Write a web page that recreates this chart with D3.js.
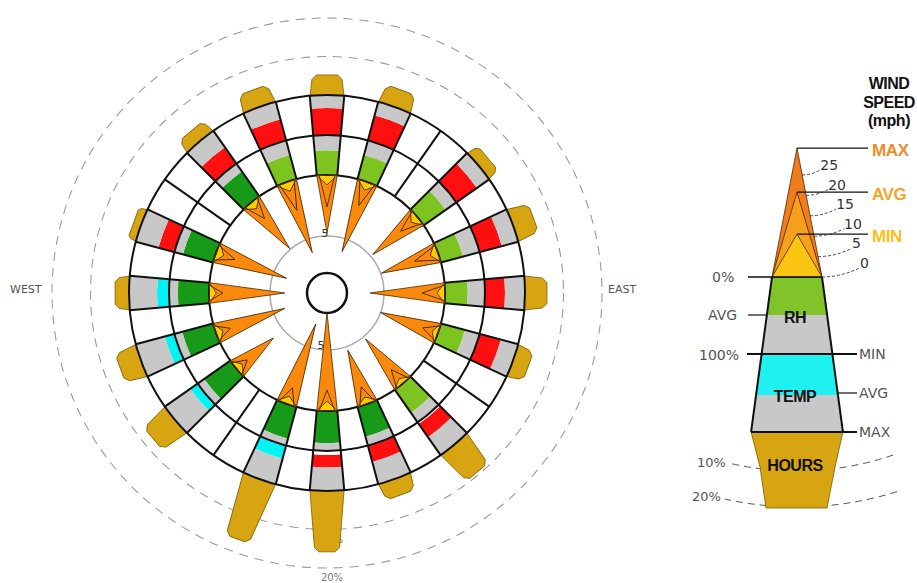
<!DOCTYPE html>
<html>
<head>
<meta charset="utf-8">
<script src="https://cdn.jsdelivr.net/npm/d3@7"></script>
<style>
  body { margin: 0; background: #fff; }
  svg { display: block; }
</style>
</head>
<body>
<svg width="917" height="583"></svg>
<script>
// ---- data ----
// wind directions in degrees, on a 10 degree grid
const directions = [0, 20, 50, 70, 90, 110, 140, 160, 180, 200, 230, 250, 270, 290, 320, 340];
// share of hours from each direction (%)
const hoursPct = [5.2, 4.7, 3.1, 5.6, 5.7, 4.2, 9.3, 4.4, 15.8, 16.6, 7.5, 5.7, 3.6, 2.0, 3.5, 4.7];
// average relative humidity (%)
const rhAvg = [62, 62, 67, 57, 57, 62, 71, 77, 80, 82, 80, 80, 78, 78, 76, 62];
// temperature (F): min, avg, max
const tempMin = [50, 50, 50, 50, 50, 50, 52, 50, 54, 50, 50, 50, 50, 50, 50, 50];
const tempAvg = [77, 76, 75, 73, 70, 72, 68, 67, 66.5, 63.5, 59, 60, 62, 66.5, 70, 72];
const tempMax = [90, 90, 90, 90, 90, 90, 90, 90, 90, 90, 90, 90, 90, 90, 90, 90];
// wind speed (mph): max, avg, min
const windMax = [23.8, 30.3, 23.8, 24.6, 30.7, 25, 23.8, 23.4, 40.2, 34.8, 19.7, 29.9, 31.1, 30.7, 24.6, 30.7];
const windAvg = [13.1, 10.2, 9, 10.2, 9.4, 6.6, 7.4, 7.4, 8.6, 7, 5.7, 6.1, 5.7, 8.2, 8.6, 12.3];
const windMin = [4, 3.5, 3.3, 3.3, 3.3, 2.5, 2.5, 3, 4, 3.3, 3, 3, 3, 3.3, 3.3, 4];
const hourRings = [10, 20];

// legend values
const legendTicks = [0, 5, 10, 15, 20, 25];
const legendWind = [31.6, 20.8, 10.5];
const legendWindNames = ["MAX", "AVG", "MIN"];

const svg = d3.select("svg");
const cx = 327, cy = 293;
const R_IN = 118, R_MID = 158, R_OUT = 198;
const rad = (d) => d * Math.PI / 180;

const rRH = d3.scaleLinear().domain([0, 100]).range([R_IN, R_MID]);
const rTemp = d3.scaleLinear().domain([50, 90]).range([R_MID, R_OUT]);
const rHours = d3.scaleLinear().domain([0, 10]).range([R_OUT, 236.5]);
const rWind = d3.scaleLinear().domain([0, 25]).range([R_IN, 57]);

const grey = "#c8c8c8";
const rhColor = (v) => v >= 75 ? "#179a17" : "#7ec421";
const tempColor = (v) => v >= 65 ? "#ff1010" : "#00f4f4";

const rows = directions.map((d, i) => ({
  dir: d, hours: hoursPct[i], rh: rhAvg[i],
  tMin: tempMin[i], tAvg: tempAvg[i], tMax: tempMax[i],
  wMax: windMax[i], wAvg: windAvg[i], wMin: windMin[i]
}));

const rose = svg.append("g").attr("transform", `translate(${cx},${cy})`);

// dashed hour rings
rose.selectAll("circle.hring")
  .data(hourRings)
  .enter().append("circle")
    .attr("class", "hring")
    .attr("r", (d) => rHours(d))
    .attr("fill", "none")
    .attr("stroke", "#9a9a9a")
    .attr("stroke-width", 1.1)
    .attr("stroke-dasharray", "9,7");

rose.selectAll("text.hlabel")
  .data(hourRings)
  .enter().append("text")
    .attr("class", "hlabel")
    .attr("x", 5)
    .attr("y", (d) => rHours(d) + 13)
    .attr("text-anchor", "middle")
    .attr("font-family", "DejaVu Sans")
    .attr("font-size", 10)
    .attr("fill", "#777")
    .text((d) => `${d}%`);

// compass labels
svg.append("text").attr("x", 10).attr("y", 293)
  .attr("font-family", "DejaVu Sans").attr("font-size", 11).attr("fill", "#555")
  .text("WEST");
svg.append("text").attr("x", 608).attr("y", 293)
  .attr("font-family", "DejaVu Sans").attr("font-size", 11).attr("fill", "#555")
  .text("EAST");

// grey speed reference circle
rose.append("circle")
  .attr("r", rWind(25))
  .attr("fill", "none")
  .attr("stroke", "#aaa")
  .attr("stroke-width", 1.5);
rose.append("text").attr("x", -2).attr("y", -56)
  .attr("text-anchor", "middle").attr("font-family", "DejaVu Sans")
  .attr("font-size", 11).attr("fill", "#333").text("5");
rose.append("text").attr("x", -6).attr("y", 56)
  .attr("text-anchor", "middle").attr("font-family", "DejaVu Sans")
  .attr("font-size", 11).attr("fill", "#333").text("5");

// hours tabs
const h0 = R_OUT * Math.sin(rad(5)), y0 = R_OUT * Math.cos(rad(5));
const tabPoints = (d) => {
  const rh = rHours(d.hours);
  const len = rh - R_OUT;
  const h1 = h0 - 0.06 * len - 1;
  const c = Math.min(4.5, len * 0.3);
  return [[-h0, -y0 + 2], [h0, -y0 + 2], [h1, -(rh - c)], [h1 - c, -rh], [-(h1 - c), -rh], [-h1, -(rh - c)]];
};
rose.selectAll("polygon.tab")
  .data(rows)
  .enter().append("polygon")
    .attr("class", "tab")
    .attr("transform", (d) => `rotate(${d.dir})`)
    .attr("points", (d) => tabPoints(d).join(" "))
    .attr("fill", "#d8a512")
    .attr("stroke", "#7a5c00")
    .attr("stroke-width", 0.8);

// white background of the band rings
rose.append("path")
  .attr("d", d3.arc().innerRadius(R_IN).outerRadius(R_OUT).startAngle(0).endAngle(2 * Math.PI)())
  .attr("fill", "#fff");

const arc = (r0, r1, dir) => d3.arc()
  .innerRadius(r0).outerRadius(r1)
  .startAngle(rad(dir - 5)).endAngle(rad(dir + 5))();

// RH band
const bands = rose.selectAll("g.band")
  .data(rows)
  .enter().append("g")
    .attr("class", "band");

bands.append("path")
  .attr("d", (d) => arc(R_IN, rRH(d.rh), d.dir))
  .attr("fill", (d) => rhColor(d.rh));
bands.append("path")
  .attr("d", (d) => arc(rRH(d.rh), R_MID, d.dir))
  .attr("fill", grey);

// temperature band
bands.append("path")
  .attr("d", (d) => arc(rTemp(d.tMin), rTemp(d.tAvg), d.dir))
  .attr("fill", (d) => tempColor(d.tAvg));
bands.append("path")
  .attr("d", (d) => arc(rTemp(d.tAvg), rTemp(d.tMax), d.dir))
  .attr("fill", grey);

// grid: rings and sector lines
rose.selectAll("circle.ring")
  .data([R_IN, R_MID, R_OUT])
  .enter().append("circle")
    .attr("class", "ring")
    .attr("r", (d) => d)
    .attr("fill", "none")
    .attr("stroke", "#111")
    .attr("stroke-width", 2);

rose.selectAll("line.sector")
  .data(d3.range(36).map((k) => 5 + k * 10))
  .enter().append("line")
    .attr("class", "sector")
    .attr("x1", (d) => R_IN * Math.sin(rad(d)))
    .attr("y1", (d) => -R_IN * Math.cos(rad(d)))
    .attr("x2", (d) => R_OUT * Math.sin(rad(d)))
    .attr("y2", (d) => -R_OUT * Math.cos(rad(d)))
    .attr("stroke", "#111")
    .attr("stroke-width", 2);

// wind spikes
const bx = R_IN * Math.sin(rad(5)), by = R_IN * Math.cos(rad(5));
const spike = (v, inset) => [[-bx + inset, -by], [bx - inset, -by], [0, -rWind(v)]].join(" ");
const spikes = rose.selectAll("g.spike")
  .data(rows)
  .enter().append("g")
    .attr("class", "spike")
    .attr("transform", (d) => `rotate(${d.dir})`);

spikes.append("polygon")
  .attr("points", (d) => spike(d.wMax, 0))
  .attr("fill", "#fb8a0c").attr("stroke", "#4a2800").attr("stroke-width", 0.8);
spikes.append("polygon")
  .attr("points", (d) => spike(d.wMin, 0))
  .attr("fill", "#ffcc00").attr("stroke", "#4a2800").attr("stroke-width", 0.8);
spikes.append("polygon")
  .attr("points", (d) => spike(d.wAvg, 2.5))
  .attr("fill", "none").attr("stroke", "#4a2800").attr("stroke-width", 0.9);

// centre circle
rose.append("circle")
  .attr("r", 20)
  .attr("fill", "#fff")
  .attr("stroke", "#111")
  .attr("stroke-width", 2.5);

// ---- legend ----
const lg = svg.append("g");
const lx = 797, lBase = 277;
const yW = d3.scaleLinear().domain([0, 25]).range([lBase, 175]);
const legendColors = ["#ef7d1c", "#f6a01e", "#fdc513"];
const labelColors = ["#f08a2c", "#f5a52a", "#fbbf1a"];

lg.selectAll("text.title")
  .data(["WIND", "SPEED", "(mph)"])
  .enter().append("text")
    .attr("class", "title")
    .attr("x", 889)
    .attr("y", (d, i) => 89 + i * 18.5)
    .attr("text-anchor", "middle")
    .attr("font-family", "Liberation Sans, Arial")
    .attr("font-weight", "bold")
    .attr("font-size", 16)
    .attr("letter-spacing", -0.5)
    .attr("fill", "#111")
    .text((d) => d);

// hours arcs behind the hours block
const arcC = [lx, 174];
[[297, 67, 96, "10%", 697, 467], [333, 72, 100, "20%", 692, 501]].forEach(([r, dl, dr, label, tx, ty]) => {
  const p = d3.path();
  p.arc(arcC[0], arcC[1], r, Math.PI / 2 - Math.asin(dr / r), Math.PI / 2 + Math.asin(dl / r));
  lg.append("path").attr("d", p.toString())
    .attr("fill", "none").attr("stroke", "#555").attr("stroke-width", 1)
    .attr("stroke-dasharray", "7,5");
  lg.append("text").attr("x", tx).attr("y", ty)
    .attr("font-family", "DejaVu Sans").attr("font-size", 13).attr("fill", "#555")
    .text(label);
});

// column (RH + TEMP), widening downward
const hw = (y) => 25 + (y - lBase) * 0.135;
const quad = (ya, yb) => [[lx - hw(ya), ya], [lx + hw(ya), ya], [lx + hw(yb), yb], [lx - hw(yb), yb]].join(" ");
[[277, 315, "#80c42a"], [315, 354, grey], [354, 395, "#1ff0f0"], [395, 432, grey]].forEach(([a, b, c]) => {
  lg.append("polygon").attr("points", quad(a, b)).attr("fill", c);
});

// hours block
lg.append("polygon")
  .attr("points", [[lx - hw(432), 432], [lx + hw(432), 432], [835, 467], [827, 508], [766, 508], [760, 467]].join(" "))
  .attr("fill", "#d8a512")
  .attr("stroke", "#7a5c00")
  .attr("stroke-width", 0.8);

// column outline
lg.append("line").attr("x1", lx - hw(277)).attr("y1", 277).attr("x2", lx - hw(432)).attr("y2", 432)
  .attr("stroke", "#111").attr("stroke-width", 2);
lg.append("line").attr("x1", lx + hw(277)).attr("y1", 277).attr("x2", lx + hw(432)).attr("y2", 432)
  .attr("stroke", "#111").attr("stroke-width", 2);

// wind triangles
lg.selectAll("polygon.wtri")
  .data(legendWind)
  .enter().append("polygon")
    .attr("class", "wtri")
    .attr("points", (d) => [[lx - 25, lBase], [lx + 25, lBase], [lx, yW(d)]].join(" "))
    .attr("fill", (d, i) => legendColors[i])
    .attr("stroke", "#4a2800")
    .attr("stroke-width", 0.8);

lg.selectAll("line.wline")
  .data(legendWind)
  .enter().append("line")
    .attr("class", "wline")
    .attr("x1", lx).attr("x2", 868)
    .attr("y1", (d) => yW(d)).attr("y2", (d) => yW(d))
    .attr("stroke", "#111").attr("stroke-width", 1.2);

lg.selectAll("text.wlabel")
  .data(legendWind)
  .enter().append("text")
    .attr("class", "wlabel")
    .attr("x", 872)
    .attr("y", (d) => yW(d) + 8)
    .attr("font-family", "Liberation Sans, Arial")
    .attr("font-weight", "bold")
    .attr("font-size", 17)
    .attr("letter-spacing", -0.4)
    .attr("fill", (d, i) => labelColors[i])
    .text((d, i) => legendWindNames[i]);

// speed ticks with curved dashed leaders
const tipY = yW(legendWind[0]);
const edgeX = (y) => lx + 25 * (y - tipY) / (lBase - tipY);
const tickEnd = (t) => {
  const y = yW(t);
  const xe = edgeX(y);
  return [xe, y, xe + 18 + (25 - t) * 0.8, y - 5 - (25 - t) * 0.17];
};
lg.selectAll("path.leader")
  .data(legendTicks)
  .enter().append("path")
    .attr("class", "leader")
    .attr("d", (d) => {
      const [x1, y1, x2, y2] = tickEnd(d);
      return `M${x1},${y1}Q${(x1 + x2) / 2},${y1} ${x2},${y2}`;
    })
    .attr("fill", "none")
    .attr("stroke", "#333")
    .attr("stroke-width", 0.9)
    .attr("stroke-dasharray", "3,2");
lg.selectAll("text.tick")
  .data(legendTicks)
  .enter().append("text")
    .attr("class", "tick")
    .attr("x", (d) => tickEnd(d)[2])
    .attr("y", (d) => tickEnd(d)[3])
    .attr("font-family", "DejaVu Sans")
    .attr("font-size", 14)
    .attr("fill", "#333")
    .text((d) => d);

// cross lines and side labels
const hline = (x1, x2, y, w) => lg.append("line")
  .attr("x1", x1).attr("x2", x2).attr("y1", y).attr("y2", y)
  .attr("stroke", "#111").attr("stroke-width", w);
hline(748, lx + 25, 277, 1.5);
hline(748, lx - hw(315), 315, 1.2);
hline(747, 857, 354, 2);
hline(lx + hw(393), 857, 393, 1.2);
hline(lx - hw(432), 857, 432, 2);

const sideLabel = (x, y, t) => lg.append("text").attr("x", x).attr("y", y)
  .attr("font-family", "DejaVu Sans").attr("font-size", 14).attr("fill", "#555").text(t);
sideLabel(712, 282, "0%");
sideLabel(708, 320, "AVG");
sideLabel(699, 360, "100%");
sideLabel(859, 359, "MIN");
sideLabel(859, 398, "AVG");
sideLabel(859, 437, "MAX");

const boldLabel = (y, t) => lg.append("text").attr("x", lx - 2).attr("y", y)
  .attr("text-anchor", "middle").attr("font-family", "Liberation Sans, Arial")
  .attr("font-weight", "bold").attr("font-size", 16).attr("letter-spacing", -0.5)
  .attr("fill", "#111").text(t);
boldLabel(323, "RH");
boldLabel(402, "TEMP");
boldLabel(471, "HOURS");
</script>
</body>
</html>
